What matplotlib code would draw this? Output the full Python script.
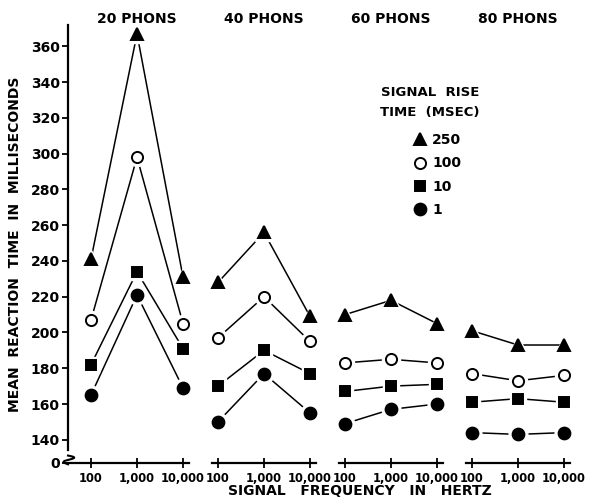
import numpy as np
import matplotlib.pyplot as plt
import matplotlib.transforms as mtransforms
from matplotlib.lines import Line2D

# Data
phons = ["20 PHONS", "40 PHONS", "60 PHONS", "80 PHONS"]
freq_labels = ["100", "1,000", "10,000"]
rise_labels = ["250", "100", "10", "1"]
rt_250 = [[241, 367, 231], [228, 256, 209], [210, 218, 205], [201, 193, 193]]
rt_100 = [[207, 298, 205], [197, 220, 195], [183, 185, 183], [177, 173, 176]]
rt_10 = [[182, 234, 191], [170, 190, 177], [167, 170, 171], [161, 163, 161]]
rt_1 = [[165, 221, 169], [150, 177, 155], [149, 157, 160], [144, 143, 144]]
yticks = [140, 160, 180, 200, 220, 240, 260, 280, 300, 320, 340, 360]

series = [rt_250, rt_100, rt_10, rt_1]
markers = [("^", "black", 8.5), ("o", "white", 8), ("s", "black", 7), ("o", "black", 8.5)]

plt.rcParams['font.family'] = 'DejaVu Sans'
plt.rcParams['font.weight'] = 'bold'

fig = plt.figure(figsize=(5.92, 5.0), dpi=100)
ax = fig.add_axes([68 / 592, 37 / 500, 507 / 592, 438 / 500])

gap = 2.76
zero_pos = 127  # where the broken axis puts "0"

for vals, (mk, fc, ms) in zip(series, markers):
    for g in range(len(phons)):
        x = g * gap + np.arange(3)
        ax.plot(x, vals[g], color="black", lw=1.1, zorder=1)
        ax.plot(x, vals[g], ls="none", marker=mk, ms=ms + 5, mfc="white",
                mec="white", zorder=2)
        ax.plot(x, vals[g], ls="none", marker=mk, ms=ms, mfc=fc,
                mec="black", mew=1.4, zorder=3)

ax.set_xlim(-0.5, 10.52)
ax.set_ylim(zero_pos, 372)

title_tr = mtransforms.blended_transform_factory(ax.transData, fig.transFigure)

# broken bottom axis, one segment per loudness level
for g in range(len(phons)):
    start = -0.5 if g == 0 else g * gap - 0.12
    ax.plot([start, g * gap + 2.13], [zero_pos, zero_pos], color="black",
            lw=1.6, clip_on=False, zorder=4)
    ax.text(g * gap + 1, 1 - 19 / 500, phons[g], transform=title_tr,
            ha="center", va="center", fontsize=10, fontweight="bold")

xt = np.concatenate([g * gap + np.arange(3) for g in range(len(phons))])
ax.set_xticks(xt)
ax.set_xticklabels(freq_labels * len(phons), fontsize=8.3, fontweight="bold")
ax.tick_params(axis="x", direction="inout", length=7, width=1.3, pad=3)

ax.set_yticks([zero_pos] + yticks)
ax.set_yticklabels(["0"] + [str(v) for v in yticks], fontsize=10, fontweight="bold")
ax.tick_params(axis="y", direction="out", length=4, width=1.3, pad=2)

for s in ["top", "right", "bottom"]:
    ax.spines[s].set_visible(False)
ax.spines["left"].set_linewidth(1.6)
ax.spines["left"].set_bounds(134, 372)

# axis break squiggle
t = np.linspace(0, 1, 30)
bx = 0.0 + 0.014 * np.sin(t * 2 * np.pi) * (1 - 0.5 * t)
by = 0.017 - 0.02 * t
ax.plot(bx, by, transform=ax.transAxes, color="black", lw=1.5, clip_on=False)

ax.set_ylabel("MEAN  REACTION  TIME  IN  MILLISECONDS", fontsize=10,
              fontweight="bold", labelpad=6)
ax.set_xlabel("SIGNAL   FREQUENCY   IN   HERTZ", fontsize=10,
              fontweight="bold")
ax.xaxis.set_label_coords(0.575, -0.047)

# legend
ax.text(0.714, 0.822, "SIGNAL  RISE\nTIME  (MSEC)", transform=ax.transAxes,
        ha="center", va="center", fontsize=9.5, fontweight="bold",
        linespacing=1.7)
handles = [Line2D([], [], ls="none", marker=mk, ms=ms, mfc=fc, mec="black", mew=1.4)
           for mk, fc, ms in markers]
ax.legend(handles, rise_labels, loc="upper left", bbox_to_anchor=(407 / 592, 1 - 126 / 500),
          bbox_transform=fig.transFigure, frameon=False, handlelength=0.8,
          handletextpad=0.5, labelspacing=0.68, borderpad=0,
          prop={"size": 10, "weight": "bold"})

fig.savefig("out.png", dpi=100)
